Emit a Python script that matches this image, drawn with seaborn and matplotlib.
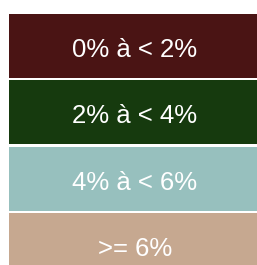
import matplotlib
matplotlib.use("Agg")
import matplotlib.pyplot as plt
import seaborn as sns
import pandas as pd

categories = ["0% à < 2%", "2% à < 4%", "4% à < 6%", ">= 6%"]
values = [1, 1, 1, 1]
colors = ["#4a1414", "#163a0e", "#97c0be", "#c6a890"]

df = pd.DataFrame({"cat": categories, "val": values})

W, H = 257, 265
fig = plt.figure(figsize=(W / 100, H / 100), dpi=100)
period = 66.3
top = 12.85
left = 9
right = 261
bottom_px = top + 4 * period
ax = fig.add_axes([left / W, (H - bottom_px) / H, (right - left) / W, 4 * period / H])

sns.barplot(data=df, y="cat", x="val", hue="cat", palette=colors, order=categories,
            hue_order=categories, width=0.965, legend=False, ax=ax, saturation=1, orient="h")
ax.set_xlim(0, 1)
ax.set_ylim(3.5, -0.5)
ax.axis("off")

for i, c in enumerate(categories):
    ax.text(0.5, i + 0.06, c, color="white", ha="center", va="center",
            fontsize=18.5, family=["Liberation Sans", "DejaVu Sans"])

fig.savefig("out.png", dpi=100)
